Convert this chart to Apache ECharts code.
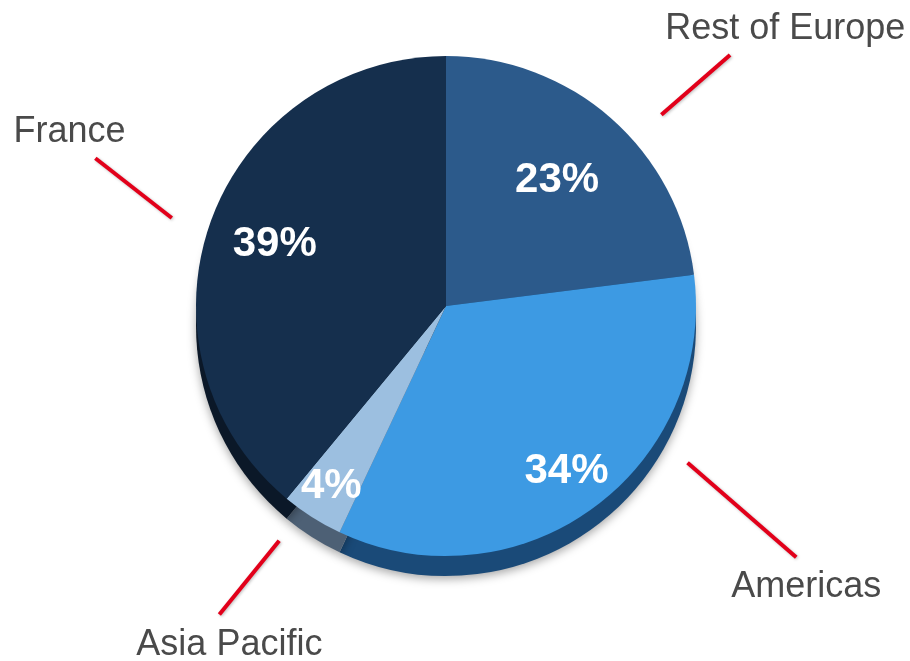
<!DOCTYPE html>
<html><head><meta charset="utf-8">
<script src="https://cdn.jsdelivr.net/npm/echarts@6/dist/echarts.min.js"></script>
<style>html,body{margin:0;padding:0;background:#fff}#chart{width:910px;height:661px}</style>
</head><body><div id="chart"></div>
<script>
// ---- data ----
const regions = ['Rest of Europe', 'Americas', 'Asia Pacific', 'France'];
const shares = [23, 34, 4, 39];

// ---- styling / option build ----
const faceColors = ['#2c5a8b', '#3d9ae3', '#9cbfe0', '#152f4d'];
const rimColors = ['#1c3b5e', '#1a4a78', '#4d6075', '#0b1828'];
const CX = 446, CY = 306, R = 250;
const font = "'Liberation Sans', Arial, sans-serif";
// label placement tuning (degrees / px)
const nameNudge = [7, -21, 3, -2];
const nameLineLen = [91, 144, 95, 97];
const nameLineAng = [41, 41, 51, 38];
const pctDist = [168, 205, 214, 182];

function items(colors) {
  return regions.map((n, i) => ({
    name: n, value: shares[i],
    itemStyle: { color: colors ? colors[i] : 'rgba(0,0,0,0)' }
  }));
}

const common = { type: 'pie', startAngle: 90, clockwise: true, animation: false,
  emphasis: { disabled: true }, avoidLabelOverlap: false };

const option = {
  backgroundColor: '#ffffff',
  series: [
    Object.assign({}, common, {
      name: 'rim', center: [CX, CY + 20], radius: [0, R], silent: true,
      label: { show: false }, labelLine: { show: false },
      itemStyle: { shadowBlur: 10, shadowColor: 'rgba(0,0,0,0.35)', shadowOffsetY: 3 },
      data: items(rimColors), z: 1
    }),
    Object.assign({}, common, {
      name: 'face', center: [CX, CY], radius: [0, R], silent: true,
      label: { show: false }, labelLine: { show: false },
      data: items(faceColors), z: 2
    }),
    Object.assign({}, common, {
      name: 'pct', center: [CX, CY], radius: [0, R], silent: true,
      label: { show: true, position: 'inside', formatter: '{c}%', color: '#ffffff',
        fontSize: 42, fontWeight: 'bold', fontFamily: font },
      labelLine: { show: false },
      data: items(null),
      labelLayout: function (p) {
        const i = p.dataIndex, r = p.labelRect;
        const a = Math.atan2(r.y + r.height / 2 - CY, r.x + r.width / 2 - CX);
        return { x: CX + pctDist[i] * Math.cos(a), y: CY + pctDist[i] * Math.sin(a),
          align: 'center', verticalAlign: 'middle' };
      },
      z: 3
    }),
    Object.assign({}, common, {
      name: 'names', center: [CX, CY], radius: [0, R + 30], silent: true,
      label: { show: true, position: 'outside', formatter: '{b}', color: '#4a4a4a',
        fontSize: 36, fontFamily: font, alignTo: 'none' },
      labelLine: { show: true, length: 60, length2: 0, smooth: false,
        lineStyle: { color: '#e2001a', width: 4, shadowBlur: 3, shadowColor: 'rgba(0,0,0,0.25)', shadowOffsetX: 1, shadowOffsetY: 1 } },
      data: items(null),
      labelLayout: function (p) {
        const i = p.dataIndex;
        const pts = p.labelLinePoints;
        if (!pts) return {};
        const a0 = Math.atan2(pts[0][0] - CX, -(pts[0][1] - CY));
        const a = a0 + nameNudge[i] * Math.PI / 180;
        const rs = R + 38;
        const sx = CX + rs * Math.sin(a), sy = CY - rs * Math.cos(a);
        const gx = Math.sin(a) >= 0 ? 1 : -1, gy = -Math.cos(a) >= 0 ? 1 : -1;
        const b = nameLineAng[i] * Math.PI / 180;
        const ex = sx + gx * nameLineLen[i] * Math.cos(b);
        const ey = sy + gy * nameLineLen[i] * Math.sin(b);
        const w = p.labelRect.width;
        const top = gy < 0;
        const x = top ? ex + gx * w * 0.23 : ex + 10;
        return { x: x, y: top ? ey - 8 : ey + 12, align: 'center',
          verticalAlign: top ? 'bottom' : 'top',
          labelLinePoints: [[sx, sy], [ex, ey], [ex, ey]] };
      },
      z: 4
    })
  ]
};
const chart = echarts.init(document.getElementById('chart'), null, { renderer: 'canvas' });
chart.setOption(option);
</script>
</body></html>
